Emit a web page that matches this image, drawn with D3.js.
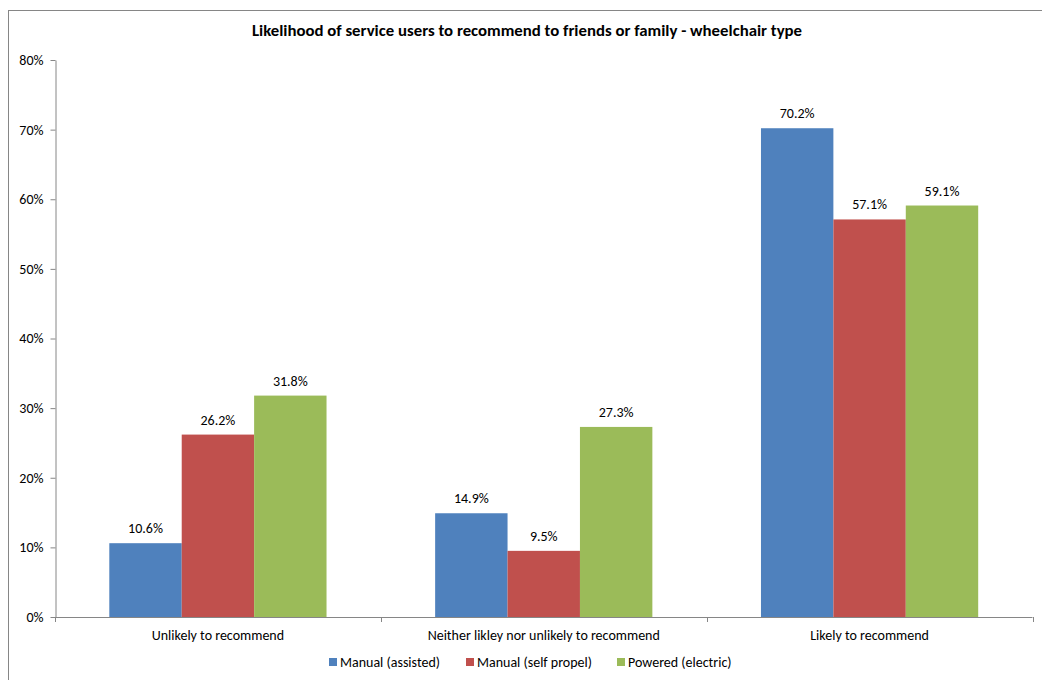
<!DOCTYPE html>
<html>
<head>
<meta charset="utf-8">
<script src="https://cdn.jsdelivr.net/npm/d3@7"></script>
<style>
  html, body { margin: 0; padding: 0; background: #fff; }
  svg { display: block; font-family: Calibri, Carlito, Lato, sans-serif; }
</style>
</head>
<body>
<svg id="chart" width="1042" height="680"></svg>
<script>
// Response categories along the x axis
const categories = [
  "Unlikely to recommend",
  "Neither likley nor unlikely to recommend",
  "Likely to recommend"
];
// Wheelchair types (series)
const seriesNames = ["Manual (assisted)", "Manual (self propel)", "Powered (electric)"];
const seriesColors = ["#4F81BD", "#C0504D", "#9BBB59"];
// Percentages per series, in category order
const manualAssisted = [10.6, 14.9, 70.2];
const manualSelfPropel = [26.2, 9.5, 57.1];
const poweredElectric = [31.8, 27.3, 59.1];
const seriesValues = [manualAssisted, manualSelfPropel, poweredElectric];
const yTicks = [0, 10, 20, 30, 40, 50, 60, 70, 80];

const svg = d3.select("#chart");
const W = 1042, H = 680;
const plot = { left: 55, right: 1032.5, top: 60, bottom: 617 };
const labelSize = 14;

// Outer chart frame
svg.append("rect")
  .attr("x", 8.5).attr("y", 10.5)
  .attr("width", W + 20).attr("height", H + 20)
  .attr("fill", "none").attr("stroke", "#868686").attr("stroke-width", 1);

// Title
svg.append("text")
  .attr("x", 527).attr("y", 36)
  .attr("text-anchor", "middle")
  .attr("font-weight", "bold")
  .attr("font-size", 16.8)
  .attr("fill", "#000")
  .text("Likelihood of service users to recommend to friends or family - wheelchair type");

const x0 = d3.scaleBand().domain(categories).range([plot.left, plot.right]).paddingInner(0).paddingOuter(0);
// Bars take 3 of 4.5 units of each category (gap width 150%)
const x1 = d3.scaleBand().domain(d3.range(3))
  .range([0, x0.bandwidth()]).paddingInner(0).paddingOuter(0.75);
const y = d3.scaleLinear().domain([0, 80]).range([plot.bottom, plot.top]);

// Y axis
const yAxis = d3.axisLeft(y).tickValues(yTicks).tickFormat(d => d + "%").tickSize(5).tickSizeOuter(0);
const gy = svg.append("g").attr("transform", `translate(${plot.left + 0.5},0)`).call(yAxis);
gy.select(".domain").attr("stroke", "#868686");
gy.selectAll(".tick line").attr("stroke", "#868686");
gy.selectAll(".tick text").attr("font-size", labelSize).attr("fill", "#000")
  .attr("font-family", "Calibri, Carlito, Lato, sans-serif").attr("x", -12);

// Bars
const groups = svg.append("g").selectAll("g")
  .data(categories)
  .join("g")
  .attr("transform", d => `translate(${x0(d)},0)`);

groups.selectAll("rect")
  .data((d, ci) => seriesValues.map((vals, si) => ({ si, v: vals[ci] })))
  .join("rect")
  .attr("x", d => x1(d.si))
  .attr("width", x1.bandwidth())
  .attr("y", d => y(d.v))
  .attr("height", d => y(0) - y(d.v))
  .attr("fill", d => seriesColors[d.si]);

// Value labels
groups.selectAll("text.val")
  .data((d, ci) => seriesValues.map((vals, si) => ({ si, v: vals[ci] })))
  .join("text")
  .attr("class", "val")
  .attr("x", d => x1(d.si) + x1.bandwidth() / 2)
  .attr("y", d => y(d.v) - 10)
  .attr("text-anchor", "middle")
  .attr("font-size", labelSize)
  .attr("fill", "#000")
  .text(d => d.v.toFixed(1) + "%");

// X axis with category divider ticks
const gx = svg.append("g");
gx.append("line")
  .attr("x1", plot.left).attr("x2", plot.right)
  .attr("y1", plot.bottom + 0.5).attr("y2", plot.bottom + 0.5)
  .attr("stroke", "#868686");
const dividers = categories.map(c => x0(c)).concat([plot.right]);
gx.selectAll("line.div").data(dividers).join("line")
  .attr("class", "div")
  .attr("x1", d => Math.round(d) + 0.5).attr("x2", d => Math.round(d) + 0.5)
  .attr("y1", plot.bottom).attr("y2", plot.bottom + 5)
  .attr("stroke", "#868686");
gx.selectAll("text").data(categories).join("text")
  .attr("x", d => x0(d) + x0.bandwidth() / 2)
  .attr("y", plot.bottom + 23)
  .attr("text-anchor", "middle")
  .attr("font-size", labelSize)
  .attr("fill", "#000")
  .text(d => d);

// Legend
const legendX = [329, 466, 617];
const legend = svg.append("g").selectAll("g").data(seriesNames).join("g")
  .attr("transform", (d, i) => `translate(${legendX[i]},658)`);
legend.append("rect").attr("width", 8).attr("height", 8)
  .attr("fill", (d, i) => seriesColors[i]);
legend.append("text").attr("x", 11).attr("y", 8.5)
  .attr("font-size", labelSize).attr("fill", "#000")
  .text(d => d);
</script>
</body>
</html>
